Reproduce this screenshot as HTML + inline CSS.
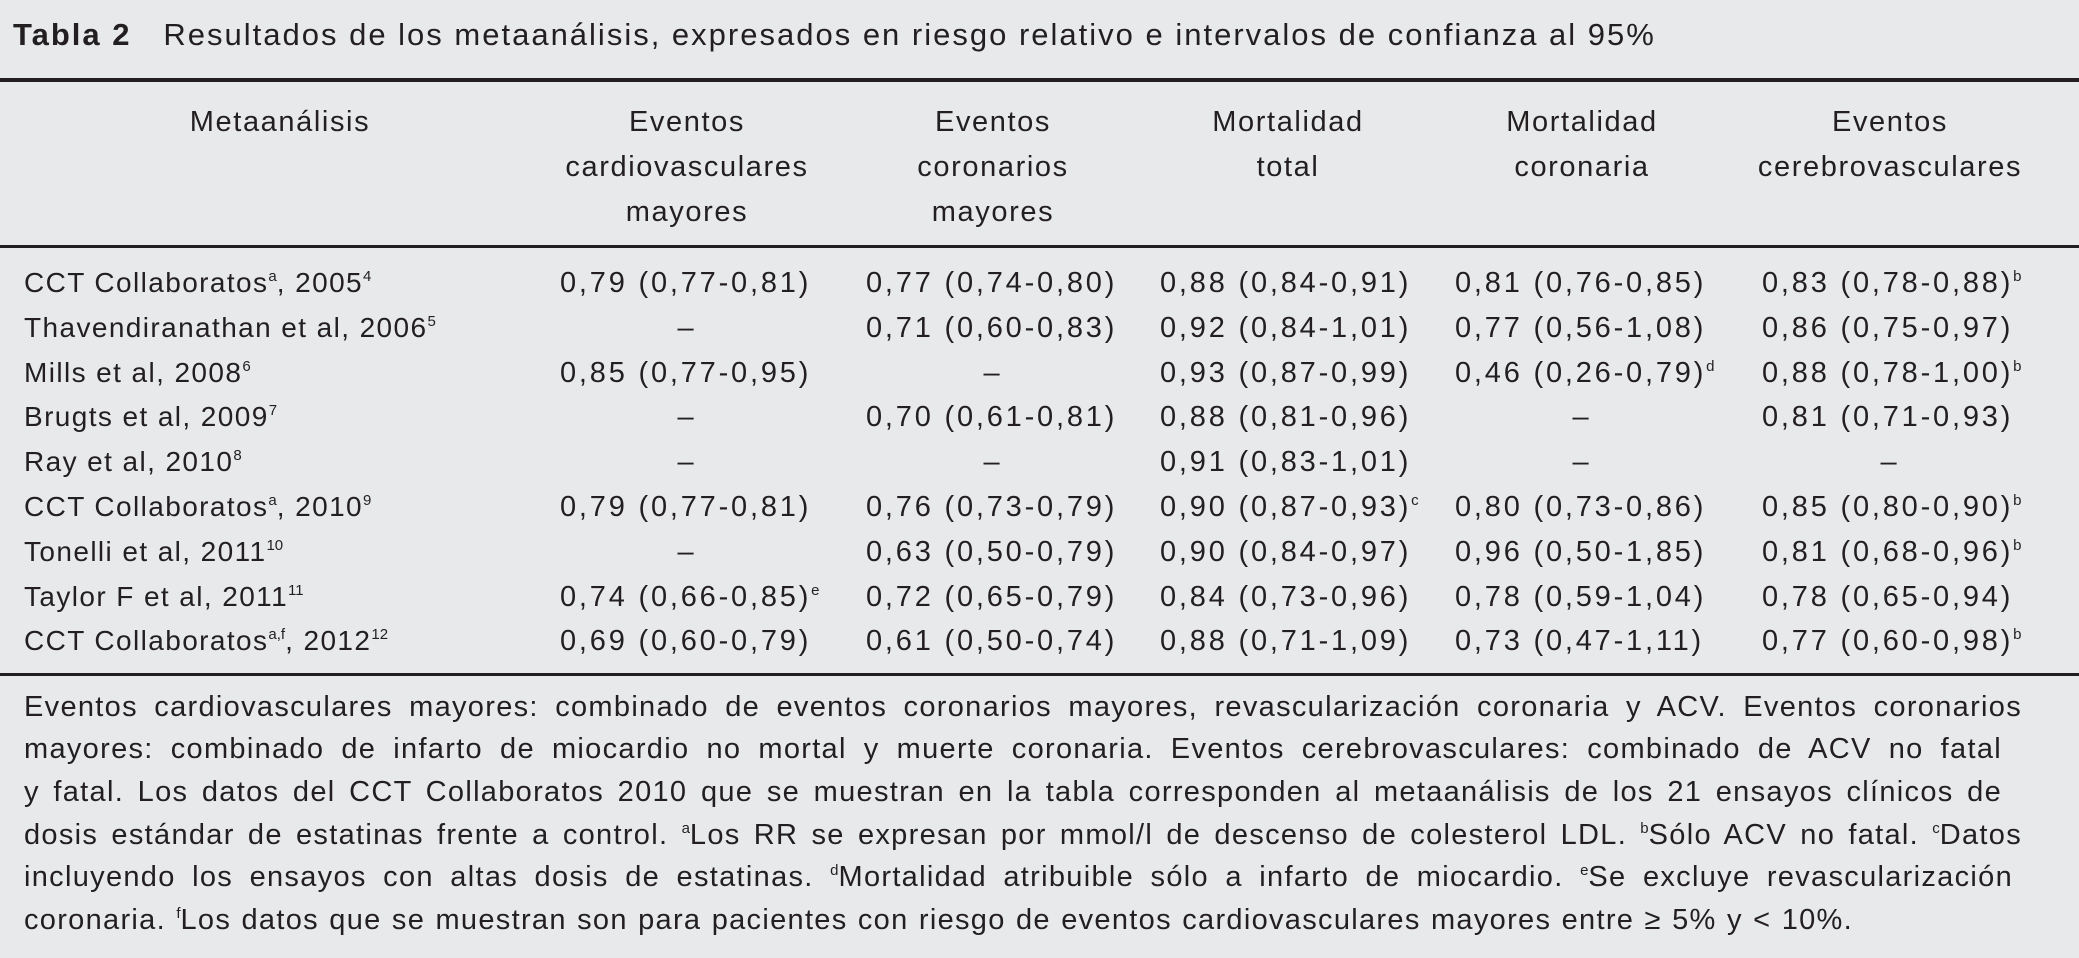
<!DOCTYPE html>
<html><head><meta charset="utf-8">
<style>
html,body{margin:0;padding:0}
body{width:2079px;height:958px;background:#e7e9eb;position:relative;overflow:hidden;font-family:"Liberation Sans",sans-serif;color:#231f20}
.a{position:absolute;white-space:nowrap}
.rule{position:absolute;left:0;width:2079px;background:#231f20}
.t{font-size:31px;letter-spacing:2.0px}
.h{font-size:29px;letter-spacing:1.6px;text-align:center;transform:translateX(-50%)}
.c{font-size:29px;letter-spacing:2.8px}
.l{font-size:28px;letter-spacing:1.4px}
sup{font-size:15px;letter-spacing:0;vertical-align:0;position:relative;top:-11px}
.f{font-size:29px;letter-spacing:1.3px;text-align:justify;text-align-last:justify;white-space:nowrap}
</style></head><body>
<div class="a t" style="left:13px;top:17px"><b>Tabla 2</b>&nbsp;&nbsp; Resultados de los metaanálisis, expresados en riesgo relativo e intervalos de confianza al 95%</div>
<div class="rule" style="top:78px;height:4px"></div>
<div class="a h" style="left:280px;top:100px;line-height:45px">Metaanálisis</div>
<div class="a h" style="left:687px;top:100px;line-height:45px">Eventos<br>cardiovasculares<br>mayores</div>
<div class="a h" style="left:993px;top:100px;line-height:45px">Eventos<br>coronarios<br>mayores</div>
<div class="a h" style="left:1288px;top:100px;line-height:45px">Mortalidad<br>total</div>
<div class="a h" style="left:1582px;top:100px;line-height:45px">Mortalidad<br>coronaria</div>
<div class="a h" style="left:1890px;top:100px;line-height:45px">Eventos<br>cerebrovasculares</div>
<div class="rule" style="top:245px;height:3px"></div>
<div id="rows"></div>
<div class="rule" style="top:673px;height:3px"></div>
<div class="a f" style="left:24px;top:691px;width:1998px">Eventos cardiovasculares mayores: combinado de eventos coronarios mayores, revascularización coronaria y ACV. Eventos coronarios</div>
<div class="a f" style="left:24px;top:733px;width:1978px">mayores: combinado de infarto de miocardio no mortal y muerte coronaria. Eventos cerebrovasculares: combinado de ACV no fatal</div>
<div class="a f" style="left:24px;top:776px;width:1978px">y fatal. Los datos del CCT Collaboratos 2010 que se muestran en la tabla corresponden al metaanálisis de los 21 ensayos clínicos de</div>
<div class="a f" style="left:24px;top:819px;width:1998px">dosis estándar de estatinas frente a control. <sup>a</sup>Los RR se expresan por mmol/l de descenso de colesterol LDL. <sup>b</sup>Sólo ACV no fatal. <sup>c</sup>Datos</div>
<div class="a f" style="left:24px;top:861px;width:1989px">incluyendo los ensayos con altas dosis de estatinas. <sup>d</sup>Mortalidad atribuible sólo a infarto de miocardio. <sup>e</sup>Se excluye revascularización</div>
<div class="a f" style="left:24px;top:904px;width:1829px">coronaria. <sup>f</sup>Los datos que se muestran son para pacientes con riesgo de eventos cardiovasculares mayores entre ≥ 5% y &lt; 10%.</div>
<script>
const labels=[["CCT Collaboratos","a",", 2005","4"],["Thavendiranathan et al, 2006","","","5"],["Mills et al, 2008","","","6"],["Brugts et al, 2009","","","7"],["Ray et al, 2010","","","8"],["CCT Collaboratos","a",", 2010","9"],["Tonelli et al, 2011","","","10"],["Taylor F et al, 2011","","","11"],["CCT Collaboratos","a,f",", 2012","12"]];
const col1=["0,79 (0,77-0,81)","","0,85 (0,77-0,95)","","","0,79 (0,77-0,81)","","0,74 (0,66-0,85)|e","0,69 (0,60-0,79)"];
const col2=["0,77 (0,74-0,80)","0,71 (0,60-0,83)","","0,70 (0,61-0,81)","","0,76 (0,73-0,79)","0,63 (0,50-0,79)","0,72 (0,65-0,79)","0,61 (0,50-0,74)"];
const col3=["0,88 (0,84-0,91)","0,92 (0,84-1,01)","0,93 (0,87-0,99)","0,88 (0,81-0,96)","0,91 (0,83-1,01)","0,90 (0,87-0,93)|c","0,90 (0,84-0,97)","0,84 (0,73-0,96)","0,88 (0,71-1,09)"];
const col4=["0,81 (0,76-0,85)","0,77 (0,56-1,08)","0,46 (0,26-0,79)|d","","","0,80 (0,73-0,86)","0,96 (0,50-1,85)","0,78 (0,59-1,04)","0,73 (0,47-1,11)"];
const col5=["0,83 (0,78-0,88)|b","0,86 (0,75-0,97)","0,88 (0,78-1,00)|b","0,81 (0,71-0,93)","","0,85 (0,80-0,90)|b","0,81 (0,68-0,96)|b","0,78 (0,65-0,94)","0,77 (0,60-0,98)|b"];
const cols=[col1,col2,col3,col4,col5];
const colLeft=[560,866,1160,1455,1762], colMid=[687,993,1288,1582,1890];
const host=document.getElementById('rows');
labels.forEach((lb,i)=>{
  const top=267+i*44.8;
  const d=document.createElement('div');
  d.className='a l';
  
  
  d.style.left='24px';d.style.top=top+'px';
  d.innerHTML=lb[0]+(lb[1]?'<sup>'+lb[1]+'</sup>':'')+lb[2]+'<sup>'+lb[3]+'</sup>';
  host.appendChild(d);
  cols.forEach((c,j)=>{
    const v=c[i];
    const e=document.createElement('div');
    e.className='a c';
    
    
    e.style.top=top+'px';
    if(v){const p=v.split('|');e.innerHTML=p[0]+(p[1]?'<sup>'+p[1]+'</sup>':'');e.style.left=colLeft[j]+'px';}
    else{e.textContent='–';e.style.left=colMid[j]+'px';e.style.transform='translateX(-50%)';}
    host.appendChild(e);
  });
});
</script>
</body></html>
